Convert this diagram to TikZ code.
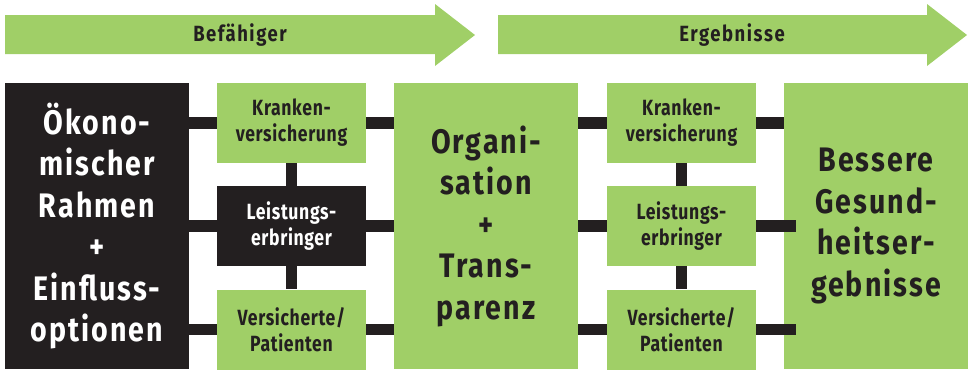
\documentclass[tikz,border=0pt]{standalone}
\usepackage{fontspec}
\newfontfamily\smallcond[FakeStretch=0.80,LetterSpace=3]{Fira Sans}
\newfontfamily\bigcond[FakeStretch=0.84,LetterSpace=6]{Fira Sans}
\newfontfamily\bannercond[FakeStretch=0.84,LetterSpace=7]{Fira Sans}
\definecolor{lgreen}{RGB}{160,207,103}
\definecolor{dblack}{RGB}{35,31,32}
\tikzset{
  box/.style={draw=none,fill=lgreen,text=dblack,inner sep=0pt,align=center,minimum width=149pt},
  smallbox/.style={box,minimum height=80pt,font={\smallcond\bfseries\fontsize{22}{26}\selectfont}},
  bigbox/.style={box,minimum width=184pt,minimum height=286pt,font={\bigcond\bfseries\fontsize{34}{41.5}\selectfont}},
  darkbox/.style={fill=dblack,text=white},
  bar/.style={draw=dblack,line width=11.5pt},
  banner/.style={fill=lgreen},
  bannerlabel/.style={text=dblack,font={\bannercond\bfseries\fontsize{22}{26}\selectfont}}
}
\begin{document}
\begin{tikzpicture}[x=1pt,y=-1pt]
\useasboundingbox (0,0) rectangle (968,372);
% banners
\fill[banner] (5,15) -- (435,15) -- (435,4) -- (475,35) -- (435,66) -- (435,54) -- (5,54) -- cycle;
\node[bannerlabel] (befaehiger) at (240,35) {Befähiger};
\fill[banner] (498,15) -- (927,15) -- (927,4) -- (967,35) -- (927,66) -- (927,54) -- (498,54) -- cycle;
\node[bannerlabel] (ergebnisse) at (732,35) {Ergebnisse};
% boxes
\node[bigbox,darkbox] (oek) at (97,226) {Ökono-\\mischer\\Rahmen\\+\\Einfluss-\\optionen};
\node[smallbox] (kr1) at (291.5,123) {Kranken-\\versicherung};
\node[smallbox,darkbox] (le1) at (291.5,226) {Leistungs-\\erbringer};
\node[smallbox] (ve1) at (291.5,329.5) {Versicherte/\\Patienten};
\node[bigbox] (org) at (486,226) {Organi-\\sation\\+\\Trans-\\parenz};
\node[smallbox] (kr2) at (681.5,123) {Kranken-\\versicherung};
\node[smallbox] (le2) at (681.5,226) {Leistungs-\\erbringer};
\node[smallbox] (ve2) at (681.5,329.5) {Versicherte/\\Patienten};
\node[bigbox] (bes) at (876,226) {Bessere\\Gesund-\\heitser-\\gebnisse};
% connectors left
\draw[bar] (oek.east |- kr1) -- (kr1.west);
\draw[bar] (oek.east |- le1) -- (le1.west);
\draw[bar] (oek.east |- ve1) -- (ve1.west);
\draw[bar] (kr1.east) -- (org.west |- kr1);
\draw[bar] (le1.east) -- (org.west |- le1);
\draw[bar] (ve1.east) -- (org.west |- ve1);
\draw[bar] (kr1.south) -- (le1.north);
\draw[bar] (le1.south) -- (ve1.north);
% connectors right
\draw[bar] (org.east |- kr2) -- (kr2.west);
\draw[bar] (org.east |- le2) -- (le2.west);
\draw[bar] (org.east |- ve2) -- (ve2.west);
\coordinate (bl) at ([xshift=12pt]bes.west |- le2);
\coordinate (bv) at ([xshift=12pt]bes.west |- ve2);
\draw[bar] (kr2.east) -- (bes.west |- kr2);
\draw[bar] (le2.east) -- (bl);
\draw[bar] (ve2.east) -- (bv);
\draw[bar] (kr2.south) -- (le2.north);
\draw[bar] (le2.south) -- (ve2.north);
\end{tikzpicture}
\end{document}
